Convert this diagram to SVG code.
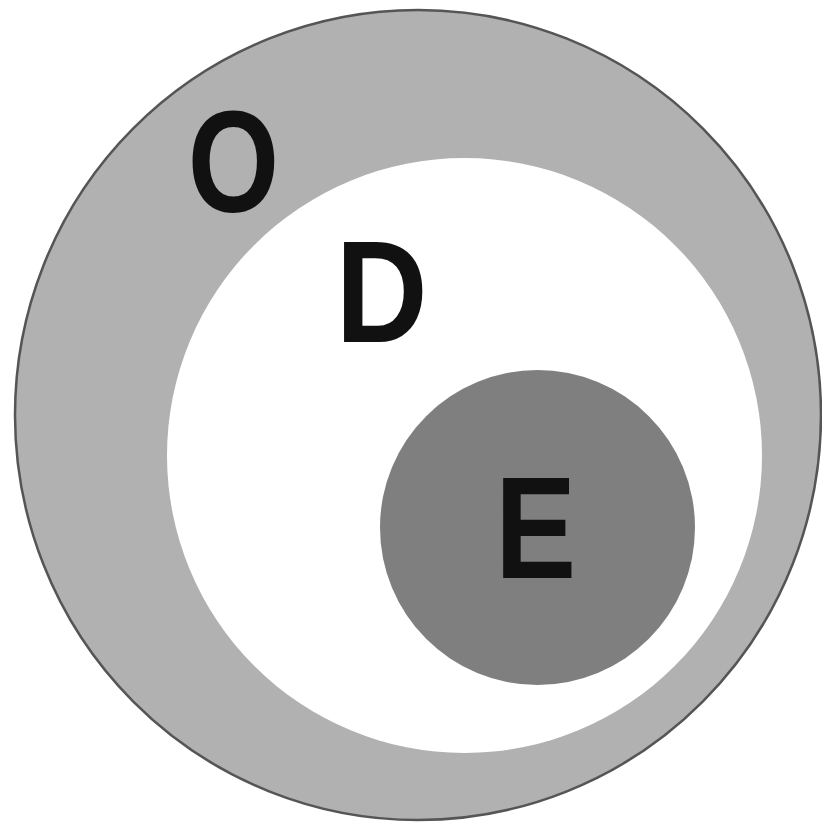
<svg xmlns="http://www.w3.org/2000/svg" width="822" height="825" viewBox="0 0 822 825">
<style>
.lbl{font-family:"Liberation Sans",Arial,sans-serif;font-weight:bold;font-size:145px;fill:#111;text-anchor:middle}
</style>
<rect width="822" height="825" fill="#fff"/>
<g id="O">
<ellipse cx="418" cy="415" rx="403" ry="405" fill="#b1b1b1" stroke="#555" stroke-width="2.5"/>
<text class="lbl" transform="translate(233.5,212) scale(0.81,1)">O</text>
</g>
<g id="D">
<circle cx="464.5" cy="455.5" r="297.5" fill="#fff"/>
<text class="lbl" transform="translate(381.5,342) scale(0.88,1)">D</text>
</g>
<g id="E">
<circle cx="537.5" cy="527.5" r="157.5" fill="#7f7f7f"/>
<text class="lbl" transform="translate(535.5,578) scale(0.84,1)">E</text>
</g>
<g id="connectors"/>
</svg>
